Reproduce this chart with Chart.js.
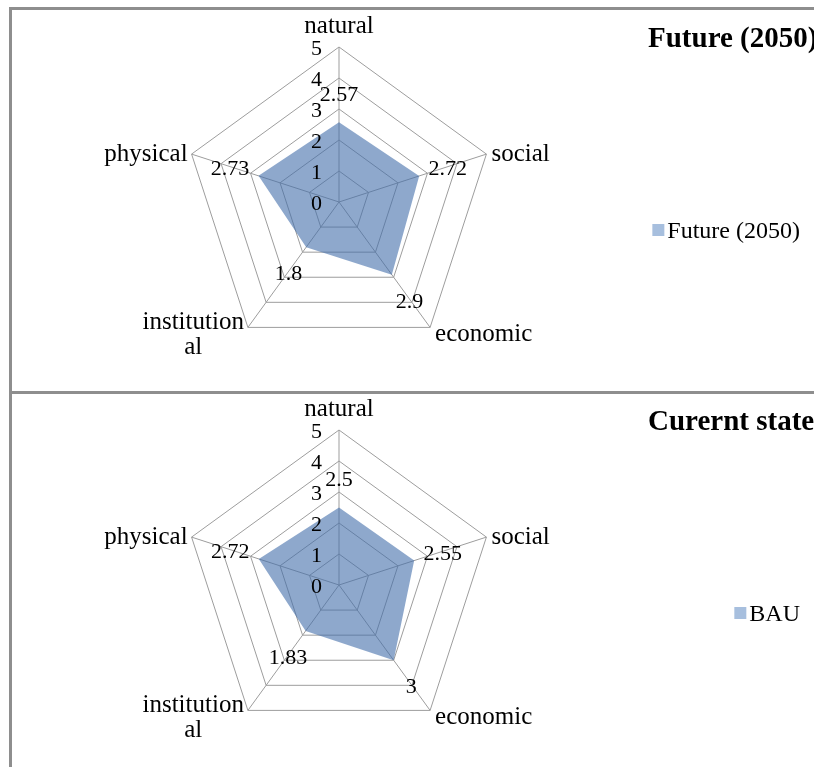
<!DOCTYPE html>
<html>
<head>
<meta charset="utf-8">
<script src="https://cdn.jsdelivr.net/npm/chart.js@4/dist/chart.umd.min.js"></script>
<style>
  html, body { margin: 0; padding: 0; background: #fff; overflow: hidden; }
  body { width: 814px; height: 767px; position: relative; }
  .panel { position: absolute; left: 9px; width: 900px; border: 3px solid #8e8e8e; box-sizing: border-box; }
  #panelTop { top: 7px; height: 387px; }
  #panelBottom { top: 391px; height: 420px; }
  canvas { position: absolute; left: 12px; }
  #chartTop { top: 10px; }
  #chartBottom { top: 393px; }
</style>
</head>
<body>
<div class="panel" id="panelTop"></div>
<div class="panel" id="panelBottom"></div>
<canvas id="chartTop" width="818" height="381"></canvas>
<canvas id="chartBottom" width="818" height="381"></canvas>
<script>
// dimensions, clockwise from the top
const categories = ['natural', 'social', 'economic', ['institution', 'al'], 'physical'];
const futureValues = [2.57, 2.72, 2.9, 1.8, 2.73];
const bauValues = [2.5, 2.55, 3, 1.83, 2.72];
const tickValues = [0, 1, 2, 3, 4, 5];

const futureTitle = 'Future (2050)';
const futureSeries = 'Future (2050)';
const bauTitle = 'Curernt state';
const bauSeries = 'BAU';

const serif = '"Liberation Serif", "Times New Roman", serif';

// text around the radar: axis labels, tick numbers, value labels, title and legend
const radarText = {
  id: 'radarText',
  afterDatasetsDraw(chart, args, opts) {
    const scale = chart.scales.r;
    const ctx = chart.ctx;
    ctx.save();
    ctx.fillStyle = '#000';

    // tick numbers, left of the vertical axis
    ctx.font = '22px ' + serif;
    ctx.textAlign = 'right';
    ctx.textBaseline = 'middle';
    scale.ticks.forEach(t => {
      const d = scale.getDistanceFromCenterForValue(t.value);
      ctx.fillText(t.label, scale.xCenter - 17, scale.yCenter - d + 2);
    });

    // axis labels
    ctx.font = '25px ' + serif;
    ctx.textBaseline = 'alphabetic';
    const lh = 25;
    chart.data.labels.forEach((label, i) => {
      const lines = [].concat(label);
      const p = scale.getPointPosition(i, scale.drawingArea);
      const a = scale.getIndexAngle(i);
      const sx = Math.sin(a), cy = Math.cos(a);
      let off;
      if (cy > 0.9) off = -14;
      else if (cy > 0) off = 7;
      else off = 14;
      const widths = lines.map(l => ctx.measureText(l).width);
      const w = Math.max(...widths);
      let cx;
      if (Math.abs(sx) < 0.01) cx = p.x;
      else if (sx > 0) cx = p.x + 5 + w / 2;
      else cx = p.x - 4 - w / 2;
      ctx.textAlign = 'center';
      let y = p.y + off - (lines.length - 1) * lh / 2;
      lines.forEach(l => {
        ctx.fillText(l, cx, y);
        y += lh;
      });
    });

    // value labels
    ctx.font = '22px ' + serif;
    ctx.textAlign = 'center';
    ctx.textBaseline = 'middle';
    chart.data.datasets[0].data.forEach((v, i) => {
      const p = scale.getPointPosition(i, scale.getDistanceFromCenterForValue(v) + 30);
      ctx.fillText(String(v), p.x, p.y + 3);
    });

    // title
    ctx.font = 'bold 29px ' + serif;
    ctx.textAlign = 'left';
    ctx.textBaseline = 'alphabetic';
    ctx.fillText(opts.title, 636, 37);

    // legend
    ctx.font = '24px ' + serif;
    ctx.textAlign = 'right';
    ctx.textBaseline = 'middle';
    const name = chart.data.datasets[0].label;
    const tw = ctx.measureText(name).width;
    ctx.fillText(name, 788, 222);
    ctx.fillStyle = '#a7bfde';
    ctx.fillRect(788 - tw - 15, 214, 12, 12);
    ctx.restore();
  }
};

function makeRadar(id, seriesName, values, title) {
  const ctx = document.getElementById(id).getContext('2d');
  new Chart(ctx, {
    type: 'radar',
    data: {
      labels: categories,
      datasets: [{
        label: seriesName,
        data: values,
        fill: true,
        backgroundColor: 'rgba(66, 110, 170, 0.6)',
        borderWidth: 0,
        pointRadius: 0
      }]
    },
    options: {
      responsive: false,
      animation: false,
      layout: { padding: { left: 10, right: 174, top: 37, bottom: 34 } },
      scales: {
        r: {
          min: tickValues[0],
          max: tickValues[tickValues.length - 1],
          ticks: { display: false, stepSize: 1 },
          pointLabels: { display: false },
          grid: { color: '#9d9d9d', lineWidth: 1 },
          angleLines: { color: '#9d9d9d', lineWidth: 1 }
        }
      },
      plugins: {
        legend: { display: false },
        tooltip: { enabled: false },
        radarText: { title: title }
      }
    },
    plugins: [radarText]
  });
}

makeRadar('chartTop', futureSeries, futureValues, futureTitle);
makeRadar('chartBottom', bauSeries, bauValues, bauTitle);
</script>
</body>
</html>
